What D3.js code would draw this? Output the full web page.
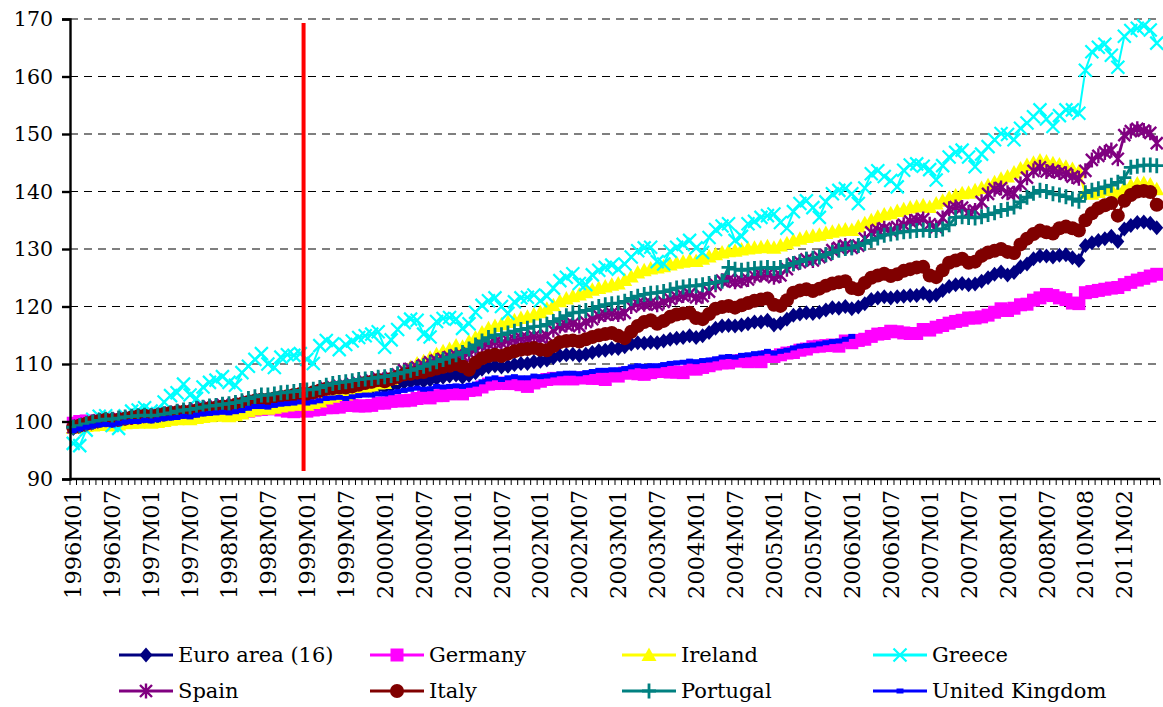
<!DOCTYPE html>
<html><head><meta charset="utf-8">
<script src="https://cdn.jsdelivr.net/npm/d3@7"></script>
<style>
body{margin:0;background:#fff}
svg{display:block}
text{font-family:"DejaVu Serif",serif;fill:#000}
</style>
</head><body>
<svg id="chart" width="1163" height="707"></svg>
<script>
// ---------- DATA ----------
const years = [1996,1997,1998,1999,2000,2001,2002,2003,2004,2005,2006,2007,2008];
const monthCodes = ["01","02","03","04","05","06","07","08","09","10","11","12"];
const lateCategories = ["2010M08","2010M09","2010M10","2010M11","2010M12","2011M01","2011M02","2011M03","2011M04","2011M05","2011M06","2011M07"];
const categories = [];
years.forEach(y => monthCodes.forEach(m => categories.push(y + "M" + m)));
lateCategories.forEach(c => categories.push(c));
const labelEvery = 6;
const yTicks = [90,100,110,120,130,140,150,160,170];
const eventCategory = "1999M01";
const eventRange = [91.4, 169.3];

const euroArea = [
98.8,99.1,99.4,99.6,99.8,99.9,99.8,100.0,100.2,100.4,100.4,100.6,
100.4,100.6,100.8,100.9,101.0,101.2,101.1,101.3,101.5,101.6,101.7,101.9,
102.0,102.2,102.5,102.8,103.0,103.1,103.0,103.2,103.4,103.5,103.6,103.8,
103.9,104.1,104.4,104.7,104.8,104.9,104.8,105.1,105.4,105.6,105.8,106.1,
105.9,106.2,106.5,106.8,106.9,107.1,107.0,107.2,107.5,107.7,107.9,108.1,
107.7,108.0,108.5,109.1,109.5,109.7,109.5,109.6,109.9,110.1,110.1,110.4,
110.5,110.7,111.1,111.5,111.6,111.7,111.5,111.7,112.0,112.3,112.4,112.7,
112.7,113.0,113.5,113.7,113.6,113.8,113.7,114.0,114.3,114.5,114.6,114.9,
114.6,114.9,115.5,116.2,116.6,116.7,116.6,116.8,117.0,117.3,117.3,117.6,
116.8,117.1,117.8,118.5,118.7,118.9,118.8,119.0,119.4,119.8,119.7,120.0,
119.6,119.9,120.5,121.2,121.5,121.7,121.5,121.7,121.8,121.9,121.9,122.3,
121.8,122.0,122.8,123.5,123.8,124.0,123.8,123.9,124.4,125.0,125.6,126.0,
125.5,125.9,126.9,127.4,128.3,128.8,128.8,128.6,128.9,129.0,128.5,128.0,
130.6,131.1,131.5,131.8,132.2,131.3,133.5,134.1,134.6,134.7,134.5,133.7];

const germany = [
99.7,100.0,100.1,100.0,100.1,100.2,100.3,100.2,100.2,100.2,100.1,100.3,
100.5,100.8,100.7,100.6,100.8,101.0,101.6,101.6,101.4,101.3,101.3,101.6,
101.5,101.7,101.6,101.8,102.0,102.1,102.3,102.2,102.0,101.8,101.7,101.9,
101.8,102.0,102.1,102.4,102.4,102.5,102.8,102.8,102.7,102.7,102.8,103.2,
103.2,103.5,103.6,103.6,103.7,104.0,104.3,104.1,104.5,104.5,104.8,105.0,
104.8,105.4,105.5,106.0,106.5,106.6,106.7,106.6,106.6,106.4,106.1,106.7,
107.0,107.3,107.5,107.4,107.5,107.4,107.6,107.6,107.5,107.5,107.3,108.0,
107.9,108.4,108.5,108.3,108.2,108.5,108.7,108.7,108.6,108.6,108.5,109.2,
109.1,109.4,109.7,110.0,110.2,110.2,110.5,110.6,110.4,110.5,110.4,111.3,
111.3,111.6,111.9,112.0,112.4,112.6,113.0,113.1,113.2,113.3,113.1,114.0,
113.7,114.1,114.3,114.8,115.2,115.3,115.7,115.6,115.4,115.3,115.3,116.0,
115.9,116.4,116.7,117.1,117.4,117.6,118.0,118.0,118.2,118.5,119.0,119.6,
119.3,119.7,120.3,120.4,121.1,121.5,122.1,121.9,121.5,121.2,120.6,120.5,
122.4,122.6,122.8,123.0,123.2,123.3,123.8,124.2,124.6,124.9,125.3,125.6];

const ireland = [
98.9,99.0,99.2,99.3,99.4,99.5,99.3,99.5,99.7,99.8,99.8,99.9,
99.8,99.9,100.1,100.3,100.4,100.5,100.4,100.6,100.8,100.9,101.0,101.1,
100.9,101.1,101.4,101.8,102.1,102.3,102.2,102.4,102.6,102.8,102.9,103.0,
102.9,103.2,103.5,104.0,104.3,104.6,104.7,105.1,105.5,105.9,106.2,106.6,
106.7,107.4,108.1,108.9,109.5,110.1,110.5,111.1,111.7,112.2,112.6,113.2,
113.0,113.9,114.6,115.5,116.2,116.6,116.9,117.3,117.6,118.0,118.2,118.6,
119.0,119.6,120.2,120.9,121.4,121.8,122.1,122.5,122.9,123.2,123.5,123.8,
124.0,124.6,125.2,125.9,126.3,126.6,126.8,127.0,127.3,127.6,127.8,128.0,
127.9,128.3,128.7,129.1,129.4,129.6,129.7,129.9,130.1,130.2,130.3,130.5,
130.2,130.6,131.0,131.5,131.8,132.1,132.3,132.5,132.8,133.0,133.2,133.4,
133.3,133.9,134.5,135.0,135.6,136.0,136.2,136.6,136.9,137.2,137.4,137.6,
137.3,137.9,138.4,138.9,139.3,139.7,139.8,140.2,140.6,141.1,141.6,142.2,
142.6,143.3,144.0,144.6,145.0,145.4,145.2,144.9,144.7,144.3,143.9,143.5,
139.8,139.6,139.9,140.2,140.4,139.8,140.6,141.1,141.4,141.5,141.2,140.4];

const greece = [
96.2,95.8,98.5,100.4,100.9,101.0,99.3,98.8,101.0,101.8,102.0,102.4,
101.8,101.4,103.4,104.5,105.0,106.5,104.6,104.0,106.0,106.8,107.2,107.8,
106.8,106.3,108.5,109.6,110.8,111.8,110.0,109.4,111.2,111.6,111.5,111.8,
110.8,110.1,113.2,114.1,113.5,112.5,113.4,114.0,114.6,114.9,115.2,115.6,
112.9,114.2,116.0,117.2,117.8,117.6,115.2,114.7,117.4,117.9,118.1,117.8,
116.2,117.0,119.0,120.2,121.0,121.5,120.0,118.8,120.8,121.5,121.6,122.0,
121.0,121.8,123.2,124.5,125.1,125.7,124.0,123.8,125.5,126.3,126.8,127.2,
126.5,127.4,128.6,129.7,130.2,130.3,127.8,127.4,129.6,130.3,130.8,131.5,
130.2,129.4,132.0,133.4,134.0,134.4,131.5,132.2,134.4,134.8,135.5,135.8,
136.1,134.6,133.6,136.5,137.9,138.4,137.2,135.5,138.2,139.6,140.2,140.5,
139.6,137.9,140.6,143.1,143.6,142.6,141.9,140.8,143.7,144.6,144.8,144.4,
143.8,142.0,144.5,146.0,146.8,147.2,146.0,144.3,146.5,147.8,149.0,150.1,
149.9,149.0,151.0,151.9,153.0,154.2,152.6,151.3,153.2,154.2,154.2,153.6,
161.1,164.3,165.1,165.6,163.7,161.6,167.0,168.0,168.4,168.8,168.1,165.8];

const spain = [
99.0,99.3,99.6,99.9,100.2,100.3,100.2,100.5,100.6,100.7,100.8,101.0,
101.0,101.1,101.3,101.5,101.6,101.8,101.8,102.1,102.4,102.5,102.6,102.9,
102.7,102.8,103.1,103.4,103.6,103.8,103.7,103.9,104.1,104.3,104.4,104.6,
104.5,104.6,105.2,105.8,106.0,106.2,106.2,106.5,106.7,106.9,107.1,107.5,
107.3,107.6,108.2,108.9,109.1,109.4,109.8,110.3,110.6,110.9,111.2,111.5,
111.4,111.9,112.5,113.2,113.5,113.8,113.7,114.1,114.3,114.5,114.5,114.8,
114.6,114.9,115.9,116.6,116.8,117.0,116.6,117.3,117.8,118.4,118.6,118.8,
118.6,118.9,120.0,120.5,120.4,120.6,120.3,120.8,121.3,121.7,121.9,122.2,
121.6,121.8,122.6,123.8,124.5,124.6,124.3,124.5,124.7,125.3,125.5,125.6,
125.1,125.4,126.5,127.4,127.7,128.2,128.0,128.6,129.0,129.8,130.2,130.6,
130.2,130.6,131.8,132.9,133.3,133.6,133.2,133.8,134.2,134.8,135.0,135.2,
134.3,133.8,135.4,137.0,137.3,137.2,136.4,136.7,138.2,139.6,140.4,140.6,
139.8,139.7,141.3,142.4,143.6,144.2,143.5,143.6,143.3,143.1,142.6,142.3,
143.6,145.5,146.2,146.8,147.2,145.7,149.8,150.5,150.9,150.6,150.2,148.4];

const italy = [
99.0,99.3,99.6,99.9,100.1,100.3,100.2,100.3,100.5,100.7,100.9,101.0,
100.9,101.1,101.3,101.5,101.6,101.7,101.7,101.9,102.1,102.3,102.4,102.6,
102.6,102.9,103.1,103.4,103.6,103.8,103.8,104.0,104.2,104.4,104.6,104.8,
104.8,105.1,105.4,105.7,105.8,105.9,105.9,106.1,106.4,106.7,106.9,107.2,
107.0,107.4,107.8,108.2,108.3,108.5,108.6,108.9,109.2,109.5,109.7,110.0,
109.6,109.0,110.2,111.0,111.4,111.6,111.4,111.8,112.2,112.5,112.6,112.8,
112.5,112.4,113.1,113.8,114.0,114.1,113.9,114.3,114.7,115.0,115.2,115.4,
114.9,114.5,115.6,116.6,117.3,117.6,117.0,117.5,118.2,118.6,118.8,118.9,
118.0,117.8,118.7,119.6,119.9,120.1,119.8,120.2,120.6,121.0,121.2,121.4,
120.3,120.1,121.1,122.4,122.8,123.0,122.7,123.1,123.6,124.0,124.2,124.4,
123.2,123.0,124.1,125.0,125.4,125.7,125.3,125.6,126.2,126.5,126.8,126.9,
125.4,125.1,126.3,127.6,128.0,128.3,127.6,127.8,128.8,129.4,129.7,130.0,
129.5,129.3,130.8,131.8,132.6,133.2,132.9,132.7,133.6,133.9,133.6,133.2,
135.0,136.2,137.1,137.6,138.0,135.8,138.4,139.4,140.0,140.1,139.9,137.7];

const portugal = [
99.0,99.3,99.6,99.9,100.2,100.4,100.4,100.6,100.8,100.9,101.0,101.1,
101.0,101.1,101.3,101.5,101.8,102.0,102.1,102.3,102.5,102.7,102.8,103.0,
103.1,103.3,103.6,104.0,104.3,104.6,104.6,104.8,105.0,105.1,105.2,105.4,
105.5,105.6,105.9,106.3,106.6,106.8,106.9,107.1,107.3,107.4,107.5,107.7,
107.8,108.0,108.3,108.6,108.9,109.2,109.6,110.0,110.4,110.8,111.2,111.6,
112.0,112.6,113.3,114.0,114.6,115.0,115.1,115.4,115.7,116.0,116.2,116.5,
116.6,116.9,117.4,117.9,118.4,118.9,119.0,119.3,119.6,120.0,120.3,120.5,
120.6,120.9,121.4,121.8,122.1,122.3,122.4,122.6,122.9,123.2,123.4,123.6,
123.6,123.8,124.0,124.2,124.4,126.8,126.5,126.3,126.5,126.6,126.7,126.8,
126.6,126.8,127.1,127.5,127.8,128.2,128.4,128.6,129.0,129.4,129.8,130.1,
130.2,130.6,131.0,131.5,131.9,132.4,132.6,132.8,133.0,133.1,133.2,133.3,
133.2,133.2,133.5,134.2,135.5,135.6,135.5,135.4,135.6,136.0,136.3,136.7,
136.9,137.3,138.2,139.0,139.7,140.2,140.0,139.6,139.4,139.1,138.7,138.3,
139.8,140.2,140.5,140.8,141.1,141.6,142.4,144.2,144.4,144.6,144.6,144.5];

const unitedKingdom = [
98.4,98.7,99.0,99.2,99.4,99.5,99.4,99.7,99.9,100.0,100.0,100.2,
100.1,100.3,100.5,100.6,100.7,100.9,100.8,101.1,101.3,101.4,101.5,101.6,
101.5,101.7,101.9,102.3,102.6,102.6,102.5,102.8,103.0,103.1,103.2,103.4,
103.2,103.4,103.6,104.0,104.1,104.2,104.0,104.3,104.5,104.6,104.6,104.8,
104.8,105.0,105.2,105.4,105.6,105.8,105.6,105.7,106.1,106.0,106.1,106.2,
106.1,106.3,106.5,106.9,107.4,107.6,107.3,107.6,107.8,107.6,107.6,107.9,
107.8,107.9,108.1,108.3,108.4,108.4,108.3,108.5,108.7,108.9,108.9,109.0,
109.0,109.2,109.5,109.7,109.6,109.7,109.7,109.9,110.1,110.2,110.3,110.5,
110.4,110.6,110.7,110.9,111.2,111.3,111.2,111.5,111.6,111.8,111.9,112.2,
111.9,112.2,112.4,112.8,113.1,113.2,113.3,113.5,113.7,113.9,114.0,114.3,
114.8];

const seriesNames = ["Euro area (16)","Germany","Ireland","Greece","Spain","Italy","Portugal","United Kingdom"];
const seriesValues = [euroArea, germany, ireland, greece, spain, italy, portugal, unitedKingdom];
const seriesColors = ["#000080","#FF00FF","#FFFF00","#00FFFF","#800080","#800000","#008080","#0000FF"];
const seriesMarkers = ["diamond","square","triangle","x","asterisk","circle","plus","dash"];

// ---------- CHART ----------
const svg = d3.select("#chart");
const plot = {left:70, right:1160, top:19, bottom:479};
const x = d3.scaleBand().domain(categories).range([plot.left, plot.right]).paddingInner(0).paddingOuter(0);
const xc = c => x(c) + x.bandwidth()/2;
const y = d3.scaleLinear().domain([90,170]).range([plot.bottom, plot.top]);

// gridlines
svg.append("g").selectAll("line").data(yTicks.filter(v => v > 90)).join("line")
  .attr("x1", plot.left).attr("x2", plot.right - 4)
  .attr("y1", d => y(d)).attr("y2", d => y(d))
  .attr("stroke", "#000").attr("stroke-width", 1.2)
  .attr("stroke-dasharray", "8,6");

const markerPaths = {
  diamond: "M0,-7.5L6.5,0L0,7.5L-6.5,0Z",
  square: "M-6.5,-6.5h13v13h-13Z",
  triangle: "M0,-7.5L7.5,6L-7.5,6Z",
  x: "M-6.5,-6.5L6.5,6.5M-6.5,6.5L6.5,-6.5",
  asterisk: "M-6,-6L6,6M-6,6L6,-6M0,-7.5V7.5",
  plus: "M-7,0H7M0,-7.5V7.5",
  dash: "M-3.5,-2.5h7v5h-7Z",
  circle: "M7,0A7,7 0 1 1 -7,0A7,7 0 1 1 7,0Z"
};
const strokeMarkers = {x:2.2, asterisk:2.4, plus:2.8};

function markerAttrs(sel, type, color){
  if (strokeMarkers[type]) {
    sel.attr("fill","none").attr("stroke",color).attr("stroke-width",strokeMarkers[type]);
  } else {
    sel.attr("fill",color).attr("stroke","none");
  }
}

const line = d3.line()
  .defined(d => d.v != null)
  .x(d => xc(d.c)).y(d => y(d.v));

seriesValues.forEach((vals, si) => {
  const pts = categories.map((c,i) => ({c, v: i < vals.length ? vals[i] : null})).filter(d => d.v != null);
  const g = svg.append("g");
  g.append("path").datum(pts).attr("d", line)
    .attr("fill","none").attr("stroke", seriesColors[si])
    .attr("stroke-width", si === 3 ? 2 : 2.8).attr("stroke-linejoin","round");
  const m = g.selectAll("path.mk").data(pts).join("path").attr("class","mk")
    .attr("d", markerPaths[seriesMarkers[si]])
    .attr("transform", d => `translate(${xc(d.c)},${y(d.v)})`);
  markerAttrs(m, seriesMarkers[si], seriesColors[si]);
});

// y axis
const yAxis = d3.axisLeft(y).tickValues(yTicks).tickSize(8).tickPadding(9).tickFormat(d3.format("d"));
const yg = svg.append("g").attr("transform", `translate(${plot.left},0)`).call(yAxis);
yg.select(".domain").attr("stroke","#000").attr("stroke-width",2.4);
yg.selectAll(".tick line").attr("stroke","#000").attr("stroke-width",2.4);
yg.selectAll(".tick text").attr("font-family","DejaVu Serif").attr("font-size",20.5).attr("fill","#000");

// x axis
const xg = svg.append("g");
xg.append("line").attr("x1", plot.left).attr("x2", plot.right)
  .attr("y1", plot.bottom).attr("y2", plot.bottom)
  .attr("stroke","#000").attr("stroke-width",2.4);
xg.selectAll("line.tk").data(categories.concat(["__end"])).join("line").attr("class","tk")
  .attr("x1", d => d === "__end" ? plot.right : x(d))
  .attr("x2", d => d === "__end" ? plot.right : x(d))
  .attr("y1", plot.bottom).attr("y2", plot.bottom + 6)
  .attr("stroke","#000").attr("stroke-width",1);
xg.selectAll("text").data(categories.filter((c,i) => i % labelEvery === 0)).join("text")
  .attr("transform", d => `translate(${xc(d)},${plot.bottom + 11}) rotate(-90)`)
  .attr("text-anchor","end").attr("dy","0.36em")
  .attr("font-size", 22.5)
  .text(d => d);

// event line
svg.append("line")
  .attr("x1", x(eventCategory)).attr("x2", x(eventCategory))
  .attr("y1", y(eventRange[1])).attr("y2", y(eventRange[0]))
  .attr("stroke","#FF0000").attr("stroke-width",4);

// legend
const legCols = [119, 370, 622, 873];
const legRows = [655, 691];
seriesNames.forEach((name, si) => {
  const lx = legCols[si % 4], ly = legRows[Math.floor(si / 4)];
  const g = svg.append("g");
  g.append("line").attr("x1", lx).attr("x2", lx + 54).attr("y1", ly).attr("y2", ly)
    .attr("stroke", seriesColors[si]).attr("stroke-width", 2.8);
  const m = g.append("path").attr("d", markerPaths[seriesMarkers[si]])
    .attr("transform", `translate(${lx + 27},${ly})`);
  markerAttrs(m, seriesMarkers[si], seriesColors[si]);
  g.append("text").attr("x", lx + 59).attr("y", ly).attr("dy","0.35em")
    .attr("font-size", 21).text(name);
});
</script>
</body></html>
